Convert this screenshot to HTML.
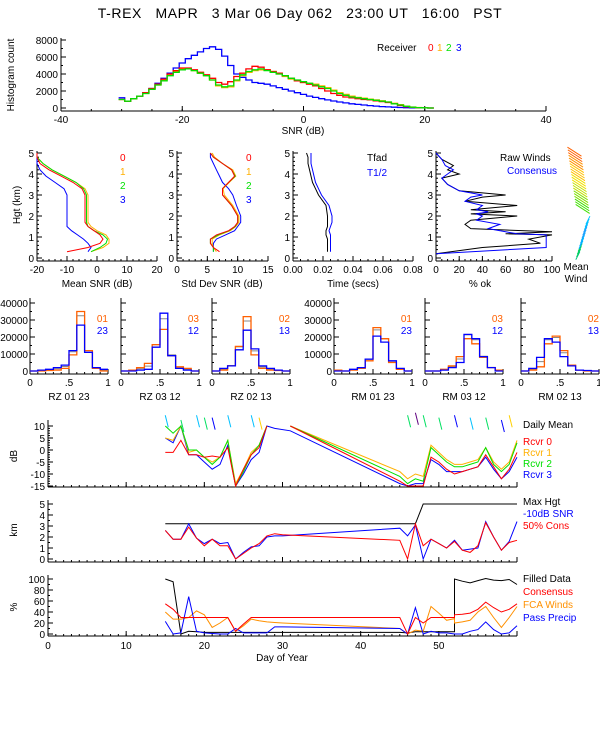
<!DOCTYPE html>
<html><head><meta charset="utf-8">
<style>
html,body{margin:0;padding:0;background:#fff;}
svg{display:block;font-family:"Liberation Sans",sans-serif;}
text{font-size:10px;fill:#000;}
</style></head>
<body>
<svg id="c" width="600" height="750" viewBox="0 0 600 750" xmlns="http://www.w3.org/2000/svg">
<text x="300" y="18" text-anchor="middle" style="font-size:14px;white-space:pre;letter-spacing:0.6px">T-REX   MAPR   3 Mar 06 Day 062   23:00 UT   16:00   PST</text>
</svg>
<script>
// ---------- DATA ----------
const snrBins = [-30,-29,-28,-27,-26,-25,-24,-23,-22,-21,-20,-19,-18,-17,-16,-15,-14,-13,-12,-11,-10,-9,-8,-7,-6,-5,-4,-3,-2,-1,0,1,2,3,4,5,6,7,8,9,10,11,12,13,14,15,16,17,18,19,20,21];
const histRcvr0 = [1000,800,1100,1400,1800,2300,2800,3400,4000,4400,4700,4700,4500,4200,3900,3500,3000,2800,3100,3700,4100,4600,4900,4800,4500,4300,4100,3800,3500,3200,3000,2800,2600,2300,2000,1700,1500,1300,1200,1100,1000,950,850,750,650,500,300,150,80,30,10,0];
const histRcvr1 = [1000,800,1100,1400,1700,2200,2700,3300,3900,4300,4600,4600,4400,4100,3800,3300,2600,2400,2500,3200,3800,4200,4400,4500,4500,4300,4000,3700,3400,3200,3000,2900,2800,2600,2400,2100,1800,1600,1400,1250,1150,1050,950,850,700,550,400,220,120,60,20,0];
const histRcvr2 = [1000,800,1100,1400,1700,2200,2700,3200,3800,4200,4500,4600,4400,4100,3800,3300,2700,2500,2600,3300,3900,4300,4500,4600,4400,4200,4000,3800,3500,3300,3100,2900,2700,2500,2300,2000,1700,1500,1300,1200,1100,1000,900,800,700,500,350,200,100,50,20,0];
const histRcvr3 = [1200,800,1100,1400,1800,2300,2900,3500,4100,4700,5300,5800,6200,6600,7000,7200,6900,6100,5000,4000,3600,3300,3000,2900,2800,2600,2400,2200,2000,1800,1600,1400,1250,1100,950,820,700,600,500,420,350,280,220,170,130,90,60,40,25,15,10,5];

const profHgt = [0.3,0.5,0.7,0.9,1.1,1.3,1.5,1.7,2.0,2.5,3.0,3.3,3.6,3.9,4.2,4.5,4.8,5.0];
const meanSnr0 = [-10,-3,1,2,1,-1,-3,-4,-4,-4,-4,-5,-8,-12,-16,-19,-20,-20];
const meanSnr1 = [-2,2,4,4,3,0,-2,-3,-3,-3,-3,-4,-7,-11,-15,-18,-20,-20];
const meanSnr2 = [-2,1,3,3.5,2,-1,-3,-3.5,-3.5,-3.5,-3.5,-4.5,-7,-11,-15,-18,-20,-20];
const meanSnr3 = [-3,-2,-3,-4.5,-6.5,-8.5,-10,-10,-10,-10,-10,-11,-14,-17,-19,-20,-20,-20];
const sdSnr0 = [7,6,5.5,5.5,6.5,8.5,9.5,10,10,9,7.5,7.5,8.5,9.5,9,7.5,6,5.5];
const sdSnr1 = [6.5,6,5.8,5.8,7,8.8,9.7,10.2,10.2,9.2,7.8,7.6,8.6,9.7,9.2,7.5,6.2,5.8];
const sdSnr2 = [6,6,5.5,5.5,6.8,8.6,9.6,10,10,9,7.5,7.5,8.5,9.6,9,7.5,6,5.5];
const sdSnr3 = [6,6,6,6.5,8,9.5,10,10.5,10.5,9.8,9.2,8.5,7.5,7,6.5,6,5.5,5.5];
const tfad = [0.023,0.023,0.023,0.023,0.022,0.022,0.023,0.023,0.023,0.022,0.017,0.015,0.013,0.012,0.011,0.010,0.010,0.009];
const thalf = [0.025,0.025,0.025,0.025,0.025,0.024,0.025,0.026,0.026,0.024,0.019,0.017,0.015,0.014,0.013,0.012,0.012,0.012];
const okHgt = [0.2,0.5,0.7,0.9,1.1,1.15,1.25,1.4,1.6,1.8,2.0,2.1,2.2,2.3,2.5,2.7,2.9,3.0,3.2,3.5,3.8,4.0,4.2,4.4,4.7,5.0];
const rawOk = [0,40,90,80,100,60,100,30,25,30,70,30,60,30,70,25,40,60,20,10,5,20,10,15,5,0];
const consOk = [0,95,95,95,95,70,60,45,55,35,40,35,45,35,40,25,30,40,20,10,5,10,15,8,5,0];

const rzBins = [0.05,0.15,0.25,0.35,0.45,0.55,0.65,0.75,0.85,0.95];
const hA1 = [0,0,300,500,1500,9500,35000,12000,1500,0];
const hB1 = [0,500,1000,2000,3500,12000,27000,11000,2000,1000];
const hA2 = [0,500,2000,4500,15500,24500,9000,2500,1500,0];
const hB2 = [0,0,500,1000,14000,34000,9000,1500,500,0];
const hA3 = [0,500,3000,14500,32000,9500,1500,500,300,0];
const hB3 = [0,1500,3000,12500,24000,13000,3000,1500,500,0];
const hA4 = [500,0,500,1500,6000,25500,19000,5000,1000,0];
const hB4 = [0,0,1000,2000,7000,20500,17000,6000,1500,0];
const hA5 = [0,0,1000,3000,8500,19000,16000,8000,2000,500];
const hB5 = [0,0,500,2000,5000,21500,19000,8500,2000,0];
const hA6 = [0,500,2500,16000,20500,12000,3500,500,0,0];
const hB6 = [0,1500,8000,19000,17000,8500,3000,500,300,0];
const histLabels = ["RZ  01 23","RZ  03 12","RZ  02 13","RM  01 23","RM  03 12","RM  02 13"];
const histTopA = ["01","03","02","01","03","02"];
const histTopB = ["23","12","13","23","12","13"];

const dbDays = [15,16,17,18,19,20,21,22,23,24,25,26,27,28,29,31,45,46,47,48,49,50,51,52,53,54,55,56,57,58,59,60];
const dbR0 = [-1,-1,4,-2,-2,-3,-2.5,-3,1,-15,-8,-2,1,10,null,10,-13,-15,-15,-15,-3,-5,-8,-10,-9,-8,-7,-2,-7,-12,-8,-1];
const dbR1 = [5,4,10,-1,0,-3,-5,-3,4,-14,-8,-1,2,10,null,10,-9,-12,-10,-11,2,-1,-4,-6,-6,-5,-4,1,-5,-8,-5,4];
const dbR2 = [10,7,10,0,0,-3,-6,-3,4,-15,-9,-2,2,10,null,10,-11,-14,-12,-13,1,-2,-5,-7,-7,-6,-5,1,-6,-9,-6,3];
const dbR3 = [5,3,10,-2,-2,-5,-8,-6,2,-15,-10,-4,-1,10,9,8,-14,-15,-14,-14,-4,-6,-9,-9,-9,-8,-7,-3,-8,-12,-9,-3];

const kmDays = [15,16,17,18,19,20,21,22,23,24,25,26,27,28,29,30,45,46,47,48,49,50,51,52,53,54,55,56,57,58,59,60];
const maxHgt = [3.2,3.2,3.2,3.2,3.2,3.2,3.2,3.2,3.2,3.2,3.2,3.2,3.2,3.2,3.2,3.2,3.2,3.2,3.2,5,5,5,5,5,5,5,5,5,5,5,5,5];
const snr10 = [2.6,1.8,1.8,3.2,1.9,1.4,1.8,1.4,1.5,0,0.6,1.1,1.2,2.0,2.1,2.1,2.8,2.1,3.1,0,1.8,1.4,1,1.7,0.8,0.9,1,3.4,2,0.8,1.6,3.4];
const cons50 = [2.6,1.8,1.8,2.9,1.9,1.2,1.8,1.2,1.2,0,0.5,1.0,1.4,2.1,2.3,2.2,1.7,0,3.2,1.2,1.8,1.4,1,1.6,0.8,0.6,1.2,3.3,2,0.8,1.5,1.7];

const pctDays = [15,16,17,18,19,20,21,22,23,24,25,26,27,28,29,30,45,46,47,48,49,50,51,52,52.01,53,54,55,56,57,58,59,60];
const filled = [100,95,0,5,4,3,3,3,3,3,3,3,3,3,3,3,3,2,4,4,4,4,4,4,100,96,93,97,101,98,97,99,90];
const consPct = [55,45,30,30,30,30,30,30,30,5,18,30,30,30,30,30,30,0,30,20,30,30,30,30,35,36,38,45,58,48,40,45,55];
const fcaPct = [40,27,27,30,42,35,12,20,30,5,15,27,24,22,21,20,10,0,7,5,50,38,25,28,20,22,25,40,50,30,12,30,50];
const precipPct = [23,0,2,68,5,2,1,0,0,10,2,2,2,2,13,13,10,0,48,0,5,2,2,0,0,0,5,8,22,8,0,2,15];

// ---------- HELPERS ----------
const svg = document.getElementById('c');
const NS = 'http://www.w3.org/2000/svg';
function mk(tag, attrs, parent){ const e=document.createElementNS(NS,tag); for(const k in attrs) e.setAttribute(k,attrs[k]); (parent||svg).appendChild(e); return e; }
function sc(d0,d1,p0,p1){ return v => p0 + (v-d0)*(p1-p0)/(d1-d0); }
function txt(x,y,s,anchor,color,size){ const t=mk('text',{x:x,y:y,'text-anchor':anchor||'start'}); if(color) t.setAttribute('style','fill:'+color+(size?';font-size:'+size+'px':'')); else if(size) t.setAttribute('style','font-size:'+size+'px'); t.textContent=s; return t; }
function line(xs,ys,fx,fy,color,name,w){
  let d='', pen=false;
  for(let i=0;i<xs.length;i++){ if(ys[i]===null||xs[i]===null){pen=false;continue;} d+=(pen?'L':'M')+fx(xs[i]).toFixed(1)+' '+fy(ys[i]).toFixed(1); pen=true; }
  const p=mk('path',{d:d,fill:'none',stroke:color,'stroke-width':w||1});
  
  
  return p;
}
function stepHist(bins,vals,width,fx,fy,color,name,w){
  let d='';
  for(let i=0;i<bins.length;i++){ const x0=fx(bins[i]-width/2), x1=fx(bins[i]+width/2), y=fy(vals[i]); d+=(i===0?'M'+x0.toFixed(1)+' '+y.toFixed(1):'L'+x0.toFixed(1)+' '+y.toFixed(1))+'L'+x1.toFixed(1)+' '+y.toFixed(1); }
  const p=mk('path',{d:d,fill:'none',stroke:color,'stroke-width':w||1.3});
  
  
  return p;
}
function axes(x0,x1,y0,y1,name){
  const g=mk('path',{d:`M${x0} ${y0}V${y1}M${x0} ${y1}H${x1}`,fill:'none',stroke:'#000','stroke-width':1});
  
  
}
function xticks(vals,labels,fx,yb,ly,minor){
  vals.forEach((v,i)=>{ mk('line',{x1:fx(v),x2:fx(v),y1:yb,y2:yb-5,stroke:'#000'}); if(labels[i]!=='') txt(fx(v),ly,labels[i],'middle'); });
  if(minor) minor.forEach(v=>mk('line',{x1:fx(v),x2:fx(v),y1:yb,y2:yb-2,stroke:'#000'}));
}
function yticks(vals,labels,fy,xl,lx,minor){
  vals.forEach((v,i)=>{ mk('line',{x1:xl,x2:xl+5,y1:fy(v),y2:fy(v),stroke:'#000'}); if(labels[i]!=='') txt(lx,fy(v)+4,labels[i],'end'); });
  if(minor) minor.forEach(v=>mk('line',{x1:xl,x2:xl+2,y1:fy(v),y2:fy(v),stroke:'#000'}));
}
function range(a,b,s){ const r=[]; for(let v=a;v<=b+1e-9;v+=s) r.push(+v.toFixed(4)); return r; }
const C0='#ff0000', C1='#ffb000', C2='#00e000', C3='#0000ff', CO='#ff6000';

// ---------- TOP HISTOGRAM ----------
{
  const fx=sc(-40,40,61,546), fy=sc(0,8000,108,40);
  axes(61,546,38,111,'snr-histogram-axes');
  xticks([-40,-20,0,20,40],['-40','-20','0','20','40'],fx,111,123,range(-40,40,5));
  yticks([0,2000,4000,6000,8000],['0','2000','4000','6000','8000'],fy,61,58,range(0,8000,1000));
  txt(303,134,'SNR (dB)','middle');
  const yl=txt(14,75,'Histogram count','middle'); yl.setAttribute('transform','rotate(-90 14 75)');
  stepHist(snrBins,histRcvr3,1,fx,fy,C3,'histogram-receiver-3');
  stepHist(snrBins,histRcvr1,1,fx,fy,C1,'histogram-receiver-1');
  stepHist(snrBins,histRcvr0,1,fx,fy,C0,'histogram-receiver-0');
  stepHist(snrBins,histRcvr2,1,fx,fy,C2,'histogram-receiver-2');
  txt(377,51,'Receiver'); txt(428,51,'0',null,C0); txt(437,51,'1',null,C1); txt(446,51,'2',null,C2); txt(456,51,'3',null,C3);
}

// ---------- PROFILE PANELS ----------
{
  const fy=sc(0,5,258,153), yb=261, yt=151;
  const ht=[0,1,2,3,4,5], hl=['0','1','2','3','4','5'], hm=range(0,5,0.2);
  const yl=txt(20,205,'Hgt (km)','middle'); yl.setAttribute('transform','rotate(-90 20 205)');
  let fx=sc(-20,20,37,157);
  axes(37,157,yt,yb,'mean-snr-axes');
  xticks([-20,-10,0,10,20],['-20','-10','0','10','20'],fx,yb,273,range(-20,20,2));
  yticks(ht,hl,fy,37,34,hm);
  txt(97,287,'Mean SNR (dB)','middle');
  line(meanSnr3,profHgt,fx,fy,C3,'mean-snr-rcvr3');
  line(meanSnr1,profHgt,fx,fy,C1,'mean-snr-rcvr1');
  line(meanSnr2,profHgt,fx,fy,C2,'mean-snr-rcvr2');
  line(meanSnr0,profHgt,fx,fy,C0,'mean-snr-rcvr0');
  txt(120,161,'0',null,C0); txt(120,175,'1',null,C1); txt(120,189,'2',null,C2); txt(120,203,'3',null,C3);
  fx=sc(0,15,177,268);
  axes(177,268,yt,yb,'std-snr-axes');
  xticks([0,5,10,15],['0','5','10','15'],fx,yb,273,range(0,15,1));
  yticks(ht,hl,fy,177,174,hm);
  txt(222,287,'Std Dev SNR (dB)','middle');
  line(sdSnr3,profHgt,fx,fy,C3,'std-snr-rcvr3');
  line(sdSnr1,profHgt,fx,fy,C1,'std-snr-rcvr1');
  line(sdSnr2,profHgt,fx,fy,C2,'std-snr-rcvr2');
  line(sdSnr0,profHgt,fx,fy,C0,'std-snr-rcvr0');
  txt(246,161,'0',null,C0); txt(246,175,'1',null,C1); txt(246,189,'2',null,C2); txt(246,203,'3',null,C3);
  fx=sc(0,0.08,293,413);
  axes(293,413,yt,yb,'time-axes');
  xticks([0,0.02,0.04,0.06,0.08],['0.00','0.02','0.04','0.06','0.08'],fx,yb,273,range(0,0.08,0.005));
  yticks(ht,hl,fy,293,290,hm);
  txt(353,287,'Time (secs)','middle');
  line(tfad,profHgt,fx,fy,'#000','tfad-profile');
  line(thalf,profHgt,fx,fy,C3,'t-half-profile');
  txt(367,161,'Tfad'); txt(367,176,'T1/2',null,C3);
  fx=sc(0,100,436,552);
  axes(436,552,yt,yb,'percent-ok-axes');
  xticks([0,20,40,60,80,100],['0','20','40','60','80','100'],fx,yb,273,range(0,100,5));
  yticks(ht,hl,fy,436,433,hm);
  txt(480,287,'% ok','middle');
  line(rawOk,okHgt,fx,fy,'#000','raw-winds-percent');
  line(consOk,okHgt,fx,fy,C3,'consensus-percent');
  txt(500,161,'Raw Winds'); txt(507,174,'Consensus',null,C3);
  const windCols=['#00c080','#00d060','#00b0ff','#20a0ff','#00c0ff','#40e000','#80e000','#c0e000','#f0e000','#ffc000','#ff9000','#ff6000'];
  for(let i=0;i<36;i++){
    const h=0.3+i*0.13, y=fy(h), x=590-(h>2?(h-2)*3:(2-h)*6);
    const col=windCols[Math.min(11,Math.floor(h/4.9*12))];
    mk('line',{x1:x,y1:y,x2:x-14+(h<2?10:0),y2:y-(h<2?-8:9),stroke:col});
  }
  txt(576,270,'Mean','middle'); txt(576,282,'Wind','middle');
}

// ---------- SMALL HISTOGRAMS ----------
{
  const starts=[30,121,212,334,425,521];
  const As=[hA1,hA2,hA3,hA4,hA5,hA6], Bs=[hB1,hB2,hB3,hB4,hB5,hB6];
  const fy=sc(0,40000,371,303);
  starts.forEach((x0,k)=>{
    const fx=sc(0,1,x0,x0+78);
    axes(x0,x0+78,298,374,'pair-histogram-axes-'+(k+1));
    xticks([0,0.5,1],['0','.5','1'],fx,374,386,range(0,1,0.1));
    yticks([0,10000,20000,30000,40000],(k===0||k===3)?['0','10000','20000','30000','40000']:['','','','',''],fy,x0,x0-2,range(0,40000,5000));
    txt(x0+39,400,histLabels[k],'middle');
    const gray=As[k].map((v,i)=>(v+Bs[k][i])/2*1.05);
    stepHist(rzBins,gray,0.1,fx,fy,'#888','pair-histogram-gray-'+(k+1),1);
    stepHist(rzBins,As[k],0.1,fx,fy,CO,'pair-histogram-a-'+(k+1));
    stepHist(rzBins,Bs[k],0.1,fx,fy,C3,'pair-histogram-b-'+(k+1));
    txt(x0+78,322,histTopA[k],'end',CO); txt(x0+78,334,histTopB[k],'end',C3);
  });
}

// ---------- TIME SERIES ----------
{
  const fx=sc(0,60,48,517);
  const dx=range(0,60,10), dl=['0','10','20','30','40','50',''], dm=range(0,60,1);
  let fy=sc(-15,10,486,426);
  axes(48,517,420,487,'daily-snr-axes');
  xticks(dx,['','','','','','',''],fx,487,0,dm);
  yticks([-15,-10,-5,0,5,10],['-15','-10','-5','0','5','10'],fy,48,45,range(-15,10,1));
  const l1=txt(17,456,'dB','middle'); l1.setAttribute('transform','rotate(-90 17 456)');
  const clip=a=>a.map(v=>v===null?null:Math.max(-15,Math.min(10,v)));
  line(dbDays,clip(dbR3),fx,fy,C3,'daily-snr-rcvr3');
  line(dbDays,clip(dbR1),fx,fy,C1,'daily-snr-rcvr1');
  line(dbDays,clip(dbR2),fx,fy,C2,'daily-snr-rcvr2');
  line(dbDays,clip(dbR0),fx,fy,C0,'daily-snr-rcvr0');
  const marks=[[15,12,3],[17,10,2],[19,12,3],[20,11,2],[21,11,1],[23,12,3],[26,12,3],[27,11,4],[46,12,2],[47,13,0],[48,12,2],[50,11,2],[52,12,1],[54,11,3],[56,11,2],[58,10,1],[59,12,4]];
  const mc=['#600080','#0000ff','#00e060','#00c0ff','#ffd000'];
  marks.forEach(m=>mk('line',{x1:fx(m[0]),y1:fy(m[1])-6,x2:fx(m[0])+3,y2:fy(m[1])+6,stroke:mc[m[2]]}));
  txt(523,428,'Daily Mean'); txt(523,445,'Rcvr 0',null,C0); txt(523,456,'Rcvr 1',null,C1); txt(523,467,'Rcvr 2',null,C2); txt(523,478,'Rcvr 3',null,C3);
  fy=sc(0,5,559,504);
  axes(48,517,500,562,'height-axes');
  xticks(dx,['','','','','','',''],fx,562,0,dm);
  yticks([0,1,2,3,4,5],['0','1','2','3','4','5'],fy,48,45,range(0,5,0.5));
  const l2=txt(17,530,'km','middle'); l2.setAttribute('transform','rotate(-90 17 530)');
  line(kmDays,maxHgt,fx,fy,'#000','max-height-line');
  line(kmDays,snr10,fx,fy,C3,'snr-10db-height-line');
  line(kmDays,cons50,fx,fy,C0,'consensus-50-height-line');
  txt(523,505,'Max Hgt'); txt(523,517,'-10dB SNR',null,C3); txt(523,529,'50% Cons',null,C0);
  fy=sc(0,100,634,579);
  axes(48,517,575,636,'percent-axes');
  xticks(dx,dl,fx,636,649,dm);
  yticks([0,20,40,60,80,100],['0','20','40','60','80','100'],fy,48,45,range(0,100,10));
  const l3=txt(17,607,'%','middle'); l3.setAttribute('transform','rotate(-90 17 607)');
  line(pctDays,filled,fx,fy,'#000','filled-data-line');
  line(pctDays,fcaPct,fx,fy,'#ff9000','fca-winds-line');
  line(pctDays,precipPct,fx,fy,C3,'pass-precip-line');
  line(pctDays,consPct,fx,fy,C0,'consensus-percent-line');
  txt(523,582,'Filled Data'); txt(523,595,'Consensus',null,C0); txt(523,608,'FCA Winds',null,'#ff9000'); txt(523,621,'Pass Precip',null,C3);
  txt(282,661,'Day of Year','middle');
}
</script>
</body></html>
